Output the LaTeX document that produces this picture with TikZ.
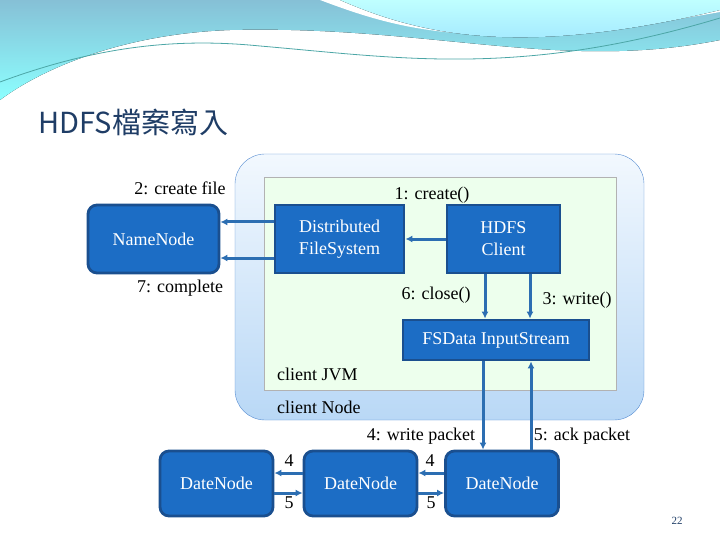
\documentclass[tikz,border=0pt]{standalone}
\usepackage{fontspec}
\setmainfont{Liberation Serif}
\newfontfamily\cjk{Noto Sans CJK TC}
\usetikzlibrary{arrows.meta,calc}
\definecolor{boxfill}{HTML}{1C6DC5}
\definecolor{boxline}{HTML}{1A4F8F}
\definecolor{arrowc}{HTML}{2C6EB2}
\definecolor{titlec}{HTML}{1F3D66}
\definecolor{wave}{HTML}{86C0D6}
\definecolor{nodetop}{HTML}{F2F8FE}
\definecolor{nodebot}{HTML}{B9D8F6}
\tikzset{
  blk/.style={draw=boxline, line width=2.8pt, fill=boxfill, text=white, align=center,
    font=\fontsize{18}{22}\selectfont},
  rblk/.style={blk, rounded corners=9pt},
  arr/.style={draw=arrowc, line width=3pt, -{Latex[length=7pt,width=7pt]}},
  lbl/.style={font=\fontsize{18}{22}\selectfont, inner sep=0pt}
}
\begin{document}
\begin{tikzpicture}[x=1pt,y=-1pt]
\useasboundingbox (0,0) rectangle (720,540);
% header wave
\fill[top color=wave, bottom color=cyan!45] (0,0) -- (720,0) -- (720,40)
  .. controls (560,72) and (430,25) .. (230,30) .. controls (120,34) and (40,70) .. (0,100) -- cycle;
\fill[white] (320,0) .. controls (400,30) and (480,55) .. (720,12) -- (720,0) -- cycle;
\fill[top color=cyan!25, bottom color=blue!30!cyan!40] (340,0) .. controls (420,35) and (520,58) .. (720,10) -- (720,0) -- cycle;
\draw[teal!70, line width=0.8pt] (0,82) .. controls (100,45) and (180,38) .. (260,46)
  .. controls (400,58) and (520,78) .. (720,18);
\node[anchor=west, text=titlec, font=\cjk\fontsize{29}{34}\selectfont] (title) at (35,122) {HDFS檔案寫入};
% containers
\draw[draw=cyan!50!blue!70, top color=nodetop, bottom color=nodebot, rounded corners=30pt]
  (235,154) rectangle (644,420);
\draw[draw=gray!60, fill=green!7] (264,177) rectangle (616,390);
% boxes
\node[rblk, minimum width=131pt, minimum height=68pt] (nn) at (153.5,239) {NameNode};
\node[blk, minimum width=129pt, minimum height=68pt] (dfs) at (339.5,239) {Distributed\\FileSystem};
\node[blk, minimum width=113pt, minimum height=68pt] (hc) at (503.5,239) {HDFS\\Client};
\node[blk, minimum width=186pt, minimum height=40pt] (fs) at (496,340) {FSData InputStream};
\node[rblk, minimum width=113pt, minimum height=65pt] (d1) at (216.5,483.5) {DateNode};
\node[rblk, minimum width=113pt, minimum height=65pt] (d2) at (360.5,483.5) {DateNode};
\node[rblk, minimum width=113pt, minimum height=65pt] (d3) at (502,483.5) {DateNode};
% arrows
\draw[arr] (dfs.west |- 0,222) -- (nn.east |- 0,222);
\draw[arr] (dfs.west |- 0,258) -- (nn.east |- 0,258);
\draw[arr] (hc.west) -- (dfs.east);
\draw[arr] (hc.south -| 485,0) -- (fs.north -| 485,0);
\draw[arr] (hc.south -| 530,0) -- (fs.north -| 530,0);
\draw[arr] (fs.south -| 483,0) -- (d3.north -| 483,0);
\draw[arr] (d3.north -| 531,0) -- (fs.south -| 531,0);
\draw[arr] (d2.west |- 0,473) -- (d1.east |- 0,473);
\draw[arr] (d1.east |- 0,493) -- (d2.west |- 0,493);
\draw[arr] (d3.west |- 0,473) -- (d2.east |- 0,473);
\draw[arr] (d2.east |- 0,493) -- (d3.west |- 0,493);
% labels
\node[lbl] (l2) at (180,188) {2: create file};
\node[lbl] (l7) at (180,288) {7: complete};
\node[lbl] (l1) at (432,195) {1: create()};
\node[lbl] (l6) at (436,295) {6: close()};
\node[lbl] (l3) at (577,300) {3: write()};
\node[lbl, anchor=west] (ljvm) at (277,374) {client JVM};
\node[lbl, anchor=west] (lcn) at (277,407) {client Node};
\node[lbl] (l4) at (421,436) {4: write packet};
\node[lbl] (l5) at (582,436) {5: ack packet};
\node[lbl] (a4) at (289,461) {4};
\node[lbl] (a5) at (289,503) {5};
\node[lbl] (b4) at (430,461) {4};
\node[lbl] (b5) at (431,503) {5};
\node[font=\fontsize{11}{13}\selectfont, text=titlec] (pg) at (677,521) {22};
\end{tikzpicture}
\end{document}
